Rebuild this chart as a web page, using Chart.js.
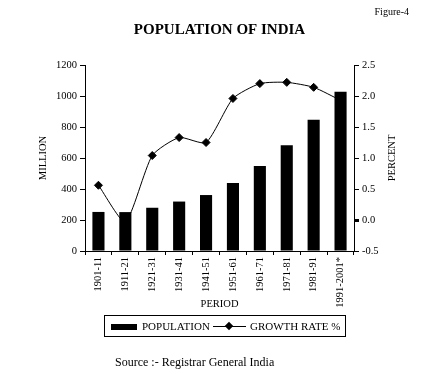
<!DOCTYPE html>
<html>
<head>
<meta charset="utf-8">
<script src="https://cdn.jsdelivr.net/npm/chart.js@4.4.0/dist/chart.umd.min.js"></script>
<style>
  body { margin: 0; background: #fff; }
  #wrap { position: relative; width: 435px; height: 374px; font-family: 'Liberation Serif', serif; color: #000; }
  #popChart { display: block; }
  #legend { position: absolute; left: 104px; top: 315px; width: 242px; height: 22px; border: 1px solid #000; box-sizing: border-box; font-size: 11px; }
  #legend span { position: absolute; top: 4px; white-space: nowrap; }
  .barkey { position: absolute; left: 6px; top: 8px; width: 26px; height: 6px; background: #000; }
  .linekey { position: absolute; left: 108px; top: 10px; width: 33px; height: 1px; background: #000; }
  .linekey:after { content: ''; position: absolute; left: 13px; top: -3px; width: 6px; height: 6px; background: #000; transform: rotate(45deg); }
  #source { position: absolute; left: 115px; top: 355px; font-size: 12px; white-space: nowrap; }
</style>
</head>
<body>
<div id="wrap">
  <canvas id="popChart" width="435" height="374"></canvas>
  <div id="legend">
    <div class="barkey"></div><span style="left:37px">POPULATION</span>
    <div class="linekey"></div><span style="left:145px">GROWTH RATE %</span>
  </div>
  <div id="source">Source :- Registrar General India</div>
</div>
<script>
// data
const periods = ['1901-11', '1911-21', '1921-31', '1931-41', '1941-51', '1951-61', '1961-71', '1971-81', '1981-91', '1991-2001*'];
const population = [252, 251, 279, 319, 361, 439, 548, 683, 846, 1027];
const growthRate = [0.56, -0.03, 1.04, 1.33, 1.25, 1.96, 2.20, 2.22, 2.14, 1.93];

const serif = 'Liberation Serif';

// right axis title reads bottom-to-top like the left one
const percentTitle = {
    id: 'percentTitle',
    afterDraw(chart) {
        const c = chart.ctx;
        const y1 = chart.scales.y1;
        c.save();
        c.translate(392, (y1.top + y1.bottom) / 2);
        c.rotate(-Math.PI / 2);
        c.font = '10.5px ' + serif;
        c.fillStyle = '#000';
        c.textAlign = 'center';
        c.textBaseline = 'middle';
        c.fillText('PERCENT', 0, 0);
        c.restore();
    }
};

const ctx = document.getElementById('popChart').getContext('2d');
const popChart = new Chart(ctx, {
    data: {
        labels: periods,
        datasets: [{
            type: 'bar',
            label: 'POPULATION',
            data: population,
            backgroundColor: '#000',
            yAxisID: 'y',
            order: 0,
            categoryPercentage: 1,
            barPercentage: 0.45
        }, {
            type: 'line',
            label: 'GROWTH RATE %',
            data: growthRate,
            borderColor: '#000',
            backgroundColor: '#000',
            borderWidth: 1,
            tension: 0.2,
            pointStyle: 'rectRot',
            pointRadius: 4,
            yAxisID: 'y1',
            order: 1
        }]
    },
    options: {
        responsive: false,
        animation: false,
        layout: { padding: { left: 30, right: 26, top: 0, bottom: 62 } },
        plugins: {
            legend: { display: false },
            tooltip: { enabled: false },
            title: {
                display: true,
                text: 'Figure-4',
                align: 'end',
                color: '#000',
                font: { family: serif, size: 10, weight: 'normal' },
                padding: { top: 6, bottom: 0 }
            },
            subtitle: {
                display: true,
                text: 'POPULATION OF INDIA',
                color: '#000',
                font: { family: serif, size: 15, weight: 'bold' },
                padding: { top: 3, bottom: 26 }
            }
        },
        scales: {
            x: {
                offset: true,
                grid: { offset: true, drawOnChartArea: false, color: '#000', tickLength: 4 },
                border: { color: '#000' },
                ticks: { color: '#000', autoSkip: false, minRotation: 90, maxRotation: 90, font: { family: serif, size: 10.5 }, padding: 2 },
                title: { display: true, text: 'PERIOD', color: '#000', font: { family: serif, size: 10.5 }, padding: { top: 0, bottom: 1 } },
                afterFit(s) { s.height = 61; }
            },
            y: {
                position: 'left',
                min: 0,
                max: 1200,
                grid: { drawOnChartArea: false, color: '#000', tickLength: 5 },
                border: { color: '#000' },
                ticks: { stepSize: 200, color: '#000', font: { family: serif, size: 10.5 }, padding: 3, callback: (v) => String(v) },
                title: { display: true, text: 'MILLION', color: '#000', font: { family: serif, size: 10.5 }, padding: { top: 7 } },
                afterFit(s) { s.width = 55; }
            },
            y1: {
                position: 'right',
                min: -0.5,
                max: 2.5,
                grid: {
                    drawOnChartArea: false,
                    color: '#000',
                    tickLength: 5,
                    tickWidth: (c) => (c.tick && c.tick.value === 0 ? 3 : 1)
                },
                border: { color: '#000' },
                ticks: { stepSize: 0.5, color: '#000', font: { family: serif, size: 10.5 }, padding: 3, callback: (v) => v.toFixed(1) },
                afterFit(s) { s.width = 55; }
            }
        }
    },
    plugins: [percentTitle]
});
</script>
</body>
</html>
